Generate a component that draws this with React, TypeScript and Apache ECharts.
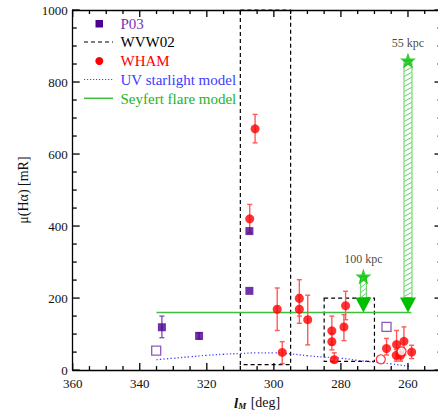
import React, { useEffect, useRef } from "react";
import * as echarts from "echarts";

// ---- data ----
const xMajorTicks = [360, 340, 320, 300, 280, 260];
const xMinorTicks = [355, 350, 345, 335, 330, 325, 315, 310, 305, 295, 290, 285, 275, 270, 265, 255];
const yMajorTicks = [0, 200, 400, 600, 800, 1000];
const yMinorTicks = [50, 100, 150, 250, 300, 350, 450, 500, 550, 650, 700, 750, 850, 900, 950];

// P03 (filled / open squares) [l, mu]
const p03Filled = [
  [333.4, 119],
  [322.3, 95],
  [307.3, 220],
  [307.3, 386],
];
const p03Open = [
  [335.1, 54],
  [266.4, 120],
];
// P03 error bars [l, low, high]
const p03Err = [
  [333.4, 90, 150],
  [322.3, 86, 104],
];

// WHAM detections [l, mu]
const whamFilled = [
  [305.6, 670],
  [307.2, 420],
  [299.0, 169],
  [297.5, 49],
  [292.4, 199],
  [292.4, 169],
  [289.9, 140],
  [282.7, 109],
  [282.7, 79],
  [282.0, 29],
  [279.1, 120],
  [278.6, 179],
  [266.4, 60],
  [263.4, 71],
  [263.5, 41],
  [262.2, 41],
  [261.2, 80],
  [258.9, 50],
];
// WHAM error bars [l, low, high]
const whamErr = [
  [305.6, 631, 710],
  [307.2, 381, 460],
  [299.0, 110, 228],
  [297.5, 18, 79],
  [292.4, 150, 251],
  [292.4, 130, 210],
  [289.9, 70, 208],
  [282.7, 70, 150],
  [282.7, 56, 102],
  [282.0, 21, 48],
  [279.1, 82, 154],
  [278.6, 140, 219],
  [266.4, 42, 88],
  [263.4, 31, 110],
  [263.5, 25, 57],
  [262.2, 25, 57],
  [261.2, 42, 120],
  [258.9, 32, 69],
];
// WHAM open circles [l, mu]
const whamOpen = [
  [268.1, 30],
  [261.9, 52],
];

// WVW02 boxes [l1, l2, muLow, muHigh]
const wvw02Boxes = [
  [310, 295, 15, 1000],
  [285, 270, 24, 200],
];

// UV starlight model curve [l, mu]
const uvModel = [
  [335, 29], [330, 33], [325, 37], [320, 41], [315, 44], [310, 46], [305, 48],
  [300, 48], [295, 45], [290, 40], [285, 36], [280, 33], [275, 27], [270, 22],
  [265, 17], [260, 11], [259, 9],
];

// Seyfert flare model level [l, mu]
const seyfertModel = [
  [335, 160],
  [259, 160],
];

// Seyfert flare distance arrows [l, muStar, muArrowTip]
const flareArrows = [
  [260, 860, 160],
  [273.3, 260, 160],
];
const flareLabels = ["55 kpc", "100 kpc"];

// ---- styles ----
const FONT = '"Liberation Serif", "DejaVu Serif", serif';
const PURPLE = "#4b0091";
const PURPLE_LIGHT = "#8653c2";
const RED = "#ff0000";
const RED_LIGHT = "#ff5a5a";
const BLUE = "#4646ff";
const GREEN = "#00bf00";
const GREEN_LINE = "#3cbf3c";
const GREEN_HATCH = "#5ad25a";
const AXIS = "#000000";
const STAR =
  "path://M0,-10L2.35,-3.24L9.51,-3.09L3.8,1.24L5.88,8.09L0,4L-5.88,8.09L-3.8,1.24L-9.51,-3.09L-2.35,-3.24Z";

function errorBarSeries(data: number[][], color: string) {
  return {
    type: "custom",
    coordinateSystem: "cartesian2d",
    encode: { x: 0, y: [1, 2] },
    data,
    z: 4,
    renderItem: (params: any, api: any) => {
      const x = api.value(0);
      const p1 = api.coord([x, api.value(1)]);
      const p2 = api.coord([x, api.value(2)]);
      const c = 2.5;
      const st = { stroke: color, lineWidth: 1.4 };
      return {
        type: "group",
        children: [
          { type: "line", shape: { x1: p1[0], y1: p1[1], x2: p2[0], y2: p2[1] }, style: st },
          { type: "line", shape: { x1: p1[0] - c, y1: p1[1], x2: p1[0] + c, y2: p1[1] }, style: st },
          { type: "line", shape: { x1: p2[0] - c, y1: p2[1], x2: p2[0] + c, y2: p2[1] }, style: st },
        ],
      };
    },
  };
}

function xAxisDef(position: string, withLabels: boolean) {
  return {
    type: "value",
    min: 250,
    max: 360,
    inverse: true,
    position,
    axisLine: { show: true, onZero: false, lineStyle: { color: AXIS, width: 1.3 } },
    axisTick: { show: false },
    axisLabel: withLabels
      ? { show: true, customValues: xMajorTicks, margin: 7, color: "#111", fontSize: 13, fontFamily: FONT }
      : { show: false },
    splitLine: { show: false },
  };
}

const legendGraphics: any[] = [
  { type: "rect", shape: { x: 95.5, y: 20, width: 7.5, height: 7.5 }, style: { fill: PURPLE } },
  { type: "text", x: 120.5, y: 23.5, style: { text: "P03", fill: "#7a32b8", fontSize: 15, fontFamily: FONT, verticalAlign: "middle" } },
  { type: "line", shape: { x1: 84, y1: 42, x2: 113, y2: 42 }, style: { stroke: "#000", lineWidth: 1.2, lineDash: [4, 3] } },
  { type: "text", x: 120.5, y: 42, style: { text: "WVW02", fill: "#000", fontSize: 15, fontFamily: FONT, verticalAlign: "middle" } },
  { type: "circle", shape: { cx: 99.3, cy: 61, r: 4 }, style: { fill: RED } },
  { type: "text", x: 120.5, y: 61, style: { text: "WHAM", fill: RED, fontSize: 15, fontFamily: FONT, verticalAlign: "middle" } },
  { type: "line", shape: { x1: 84, y1: 79.5, x2: 113, y2: 79.5 }, style: { stroke: BLUE, lineWidth: 1.2, lineDash: [1.2, 1.8] } },
  { type: "text", x: 120.5, y: 80, style: { text: "UV starlight model", fill: "#3c3cff", fontSize: 15, fontFamily: FONT, verticalAlign: "middle" } },
  { type: "line", shape: { x1: 84, y1: 98.3, x2: 113, y2: 98.3 }, style: { stroke: GREEN_LINE, lineWidth: 1.5 } },
  { type: "text", x: 120.5, y: 98.5, style: { text: "Seyfert flare model", fill: "#22b522", fontSize: 15, fontFamily: FONT, verticalAlign: "middle" } },
];

export default function App() {
  const ref = useRef<HTMLDivElement>(null);
  useEffect(() => {
    if (!ref.current) return;
    const chart = echarts.init(ref.current, undefined, { renderer: "svg" });
    const xMain: any = xAxisDef("bottom", true);
    xMain.name = "{b|l}{s|M} [deg]";
    xMain.nameLocation = "middle";
    xMain.nameGap = 17;
    xMain.nameTextStyle = {
      fontSize: 14,
      fontFamily: FONT,
      color: "#111",
      rich: {
        b: { fontSize: 15, fontWeight: "bold", fontStyle: "italic", fontFamily: FONT, color: "#111" },
        s: { fontSize: 9, fontWeight: "bold", fontStyle: "italic", fontFamily: FONT, color: "#111", verticalAlign: "bottom", padding: [6, 1, 0, 0] },
      },
    };
    const yCommon = {
      type: "value",
      min: 0,
      max: 1000,
      interval: 200,
      splitLine: { show: false },
      axisLine: { show: true, onZero: false, lineStyle: { color: AXIS, width: 1.3 } },
      axisTick: { show: false },
      minorTick: { show: false },
    };
    const option: any = {
      animation: false,
      backgroundColor: "#ffffff",
      grid: { left: 72.7, top: 10, right: 4.5, bottom: 36.6 },
      xAxis: [xMain, xAxisDef("top", false)],
      yAxis: [
        {
          ...yCommon,
          position: "left",
          axisLabel: { show: true, margin: 5, color: "#111", fontSize: 13, fontFamily: FONT, formatter: (v: number) => String(v) },
          name: "μ(Hα) [mR]",
          nameLocation: "middle",
          nameGap: 37,
          nameTextStyle: { fontSize: 14, fontFamily: FONT, color: "#111" },
        },
        { ...yCommon, position: "right", axisLabel: { show: false } },
      ],
      series: [
        {
          name: "WVW02",
          type: "custom",
          coordinateSystem: "cartesian2d",
          encode: { x: [0, 1], y: [2, 3] },
          data: wvw02Boxes,
          z: 1,
          renderItem: (params: any, api: any) => {
            const a = api.coord([api.value(0), api.value(3)]);
            const b = api.coord([api.value(1), api.value(2)]);
            return {
              type: "rect",
              shape: { x: Math.min(a[0], b[0]), y: Math.min(a[1], b[1]), width: Math.abs(b[0] - a[0]), height: Math.abs(b[1] - a[1]) },
              style: { fill: "none", stroke: "#000", lineWidth: 1.2, lineDash: [4, 3] },
            };
          },
        },
        {
          name: "UV starlight model",
          type: "line",
          data: uvModel,
          smooth: true,
          showSymbol: false,
          symbol: "none",
          z: 2,
          lineStyle: { color: BLUE, width: 1.3, type: [1.3, 2.2] },
        },
        {
          name: "Seyfert flare model",
          type: "line",
          data: seyfertModel,
          showSymbol: false,
          symbol: "none",
          z: 2,
          lineStyle: { color: GREEN_LINE, width: 1.5 },
        },
        {
          name: "flare arrows",
          type: "custom",
          coordinateSystem: "cartesian2d",
          encode: { x: 0, y: [1, 2] },
          data: flareArrows,
          z: 3,
          renderItem: (params: any, api: any) => {
            const x = api.value(0);
            const top = api.coord([x, api.value(1)]);
            const tip = api.coord([x, api.value(2)]);
            const w = params.dataIndex === 0 ? 8 : 6;
            const headH = 15;
            const headW = 16;
            const headTop = tip[1] - headH;
            const left = top[0] - w / 2;
            const right = top[0] + w / 2;
            const children: any[] = [
              {
                type: "rect",
                shape: { x: left, y: top[1], width: w, height: headTop - top[1] },
                style: { fill: "#ffffff", stroke: GREEN_HATCH, lineWidth: 1 },
              },
            ];
            for (let y = top[1] + 6; y <= headTop; y += 5) {
              children.push({
                type: "line",
                shape: { x1: left + 0.5, y1: y, x2: right - 0.5, y2: y - 4 },
                style: { stroke: GREEN_HATCH, lineWidth: 1 },
              });
            }
            children.push({
              type: "polygon",
              shape: { points: [[tip[0] - headW / 2, headTop], [tip[0] + headW / 2, headTop], [tip[0], tip[1]]] },
              style: { fill: GREEN },
            });
            return { type: "group", children };
          },
        },
        {
          name: "flare stars",
          type: "scatter",
          data: flareArrows.map((d) => [d[0], d[1]]),
          symbol: STAR,
          symbolSize: 16,
          z: 5,
          itemStyle: { color: GREEN },
          label: {
            show: true,
            position: "top",
            distance: 3,
            formatter: (p: any) => flareLabels[p.dataIndex],
            color: "#111",
            fontSize: 12,
            fontFamily: FONT,
          },
        },
        errorBarSeries(p03Err, PURPLE_LIGHT),
        errorBarSeries(whamErr, RED_LIGHT),
        {
          name: "P03",
          type: "scatter",
          data: p03Filled,
          symbol: "rect",
          symbolSize: 8,
          z: 5,
          itemStyle: { color: PURPLE },
        },
        {
          name: "P03 open",
          type: "scatter",
          data: p03Open,
          symbol: "rect",
          symbolSize: 9,
          z: 5,
          itemStyle: { color: "#ffffff", borderColor: "#7030a8", borderWidth: 1.3 },
        },
        {
          name: "WHAM",
          type: "scatter",
          data: whamFilled,
          symbol: "circle",
          symbolSize: 9,
          z: 6,
          itemStyle: { color: RED },
        },
        {
          name: "WHAM open",
          type: "scatter",
          data: whamOpen,
          symbol: "circle",
          symbolSize: 9,
          z: 6,
          itemStyle: { color: "#ffffff", borderColor: RED, borderWidth: 1.2 },
        },
      ],
      graphic: { elements: legendGraphics },
    };
    chart.setOption(option);

    // inward frame ticks placed through the chart's own scales
    const finder = { xAxisIndex: 0, yAxisIndex: 0 };
    const fp = (x: number, y: number) => chart.convertToPixel(finder as any, [x, y]) as number[];
    const ll = fp(360, 0);
    const ur = fp(250, 1000);
    const xl = ll[0];
    const yb = ll[1];
    const xr = ur[0];
    const yt = ur[1];
    const st = { stroke: AXIS, lineWidth: 1.3 };
    const ticks: any[] = [];
    const addX = (vals: number[], len: number) =>
      vals.forEach((v) => {
        const px = fp(v, 0)[0];
        ticks.push({ type: "line", z: 100, shape: { x1: px, y1: yb, x2: px, y2: yb - len }, style: st });
        ticks.push({ type: "line", z: 100, shape: { x1: px, y1: yt, x2: px, y2: yt + len }, style: st });
      });
    const addY = (vals: number[], len: number) =>
      vals.forEach((v) => {
        const py = fp(300, v)[1];
        ticks.push({ type: "line", z: 100, shape: { x1: xl, y1: py, x2: xl + len, y2: py }, style: st });
        ticks.push({ type: "line", z: 100, shape: { x1: xr, y1: py, x2: xr - len, y2: py }, style: st });
      });
    addX(xMajorTicks, 7);
    addX(xMinorTicks, 4);
    addY(yMajorTicks, 7);
    addY(yMinorTicks, 4);
    chart.setOption({ graphic: { elements: [...legendGraphics, ...ticks] } });

    return () => {
      chart.dispose();
    };
  }, []);
  return (
    <div style={{ position: "fixed", left: 0, top: 0, width: 438, height: 415, background: "#fff", overflow: "hidden" }}>
      <div ref={ref} style={{ position: "absolute", left: 0, top: 0, width: 446, height: 415 }} />
    </div>
  );
}
